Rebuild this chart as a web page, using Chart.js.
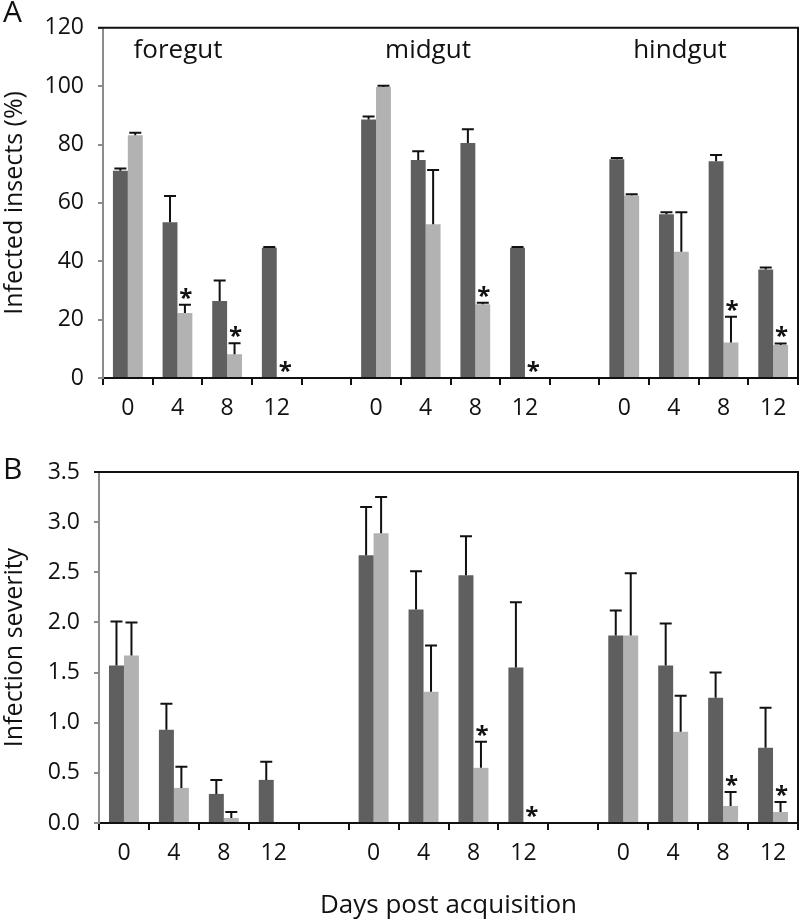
<!DOCTYPE html>
<html>
<head>
<meta charset="utf-8">
<script src="https://cdn.jsdelivr.net/npm/chart.js@4/dist/chart.umd.min.js"></script>
<style>
  body { margin: 0; background: #fff; }
  #wrap { position: relative; width: 800px; height: 921px; }
  canvas { position: absolute; left: 0; }
  #chartA { top: 0; }
  #chartB { top: 420px; }
</style>
</head>
<body>
<div id="wrap">
  <canvas id="chartA" width="800" height="420"></canvas>
  <canvas id="chartB" width="800" height="501"></canvas>
</div>
<script>
// x categories: days post acquisition, one blank slot between gut regions
const categories = ["0", "4", "8", "12", "", "0", "4", "8", "12", "", "0", "4", "8", "12"];
const groupNames = ["foregut", "midgut", "hindgut"];

// Panel A - infected insects (%)
const infectedDark = [71, 53.4, 26.4, 44.6, null, 88.6, 74.7, 80.5, 44.6, null, 75, 56.1, 74.3, 37.2];
const infectedDarkErr = [0.8, 9, 7, 0.3, null, 1, 3, 4.7, 0.3, null, 0.4, 0.7, 2.1, 0.7];
const infectedLight = [83.2, 22.3, 8.1, 0, null, 99.7, 52.7, 25.3, 0, null, 62.5, 43.3, 12.2, 11.3];
const infectedLightErr = [0.8, 2.8, 3.8, 0, null, 0.4, 18.6, 0.5, 0, null, 0.5, 13.5, 8.8, 0.5];
const infectedSig = [0, 1, 1, 1, 0, 0, 0, 1, 1, 0, 0, 0, 1, 1];

// Panel B - infection severity
const severityDark = [1.57, 0.93, 0.29, 0.43, null, 2.67, 2.13, 2.47, 1.55, null, 1.87, 1.57, 1.25, 0.75];
const severityDarkErr = [0.44, 0.26, 0.14, 0.18, null, 0.48, 0.38, 0.39, 0.65, null, 0.25, 0.42, 0.25, 0.40];
const severityLight = [1.67, 0.35, 0.05, 0, null, 2.89, 1.31, 0.55, 0, null, 1.87, 0.91, 0.17, 0.11];
const severityLightErr = [0.33, 0.21, 0.06, 0, null, 0.36, 0.46, 0.26, 0, null, 0.62, 0.36, 0.14, 0.10];
const severitySig = [0, 0, 0, 0, 0, 0, 0, 1, 1, 0, 0, 0, 1, 1];

const DARK = "#5f5f5f";
const LIGHT = "#b2b2b2";
const FONT = "'Open Sans', 'DejaVu Sans', sans-serif";

// Error bars, asterisks, frame and labels
const extrasPlugin = {
  id: "extras",
  afterDatasetsDraw(chart) {
    const opts = chart.options.plugins.extras;
    const ctx = chart.ctx;
    const area = chart.chartArea;
    const yScale = chart.scales.y;

    // top and right frame
    ctx.save();
    ctx.strokeStyle = "#111";
    ctx.lineWidth = 2;
    ctx.beginPath();
    ctx.moveTo(area.left - 5, area.top);
    ctx.lineTo(area.right, area.top);
    ctx.lineTo(area.right, area.bottom);
    ctx.stroke();

    // error bars (upper only)
    opts.errors.forEach((errs, di) => {
      const meta = chart.getDatasetMeta(di);
      const vals = chart.data.datasets[di].data;
      errs.forEach((e, i) => {
        if (e == null || !vals[i]) return;
        const bar = meta.data[i];
        const yTop = yScale.getPixelForValue(vals[i]);
        const yCap = yScale.getPixelForValue(vals[i] + e);
        ctx.beginPath();
        ctx.moveTo(bar.x, yTop);
        ctx.lineTo(bar.x, yCap);
        ctx.moveTo(bar.x - 6, yCap);
        ctx.lineTo(bar.x + 6, yCap);
        ctx.stroke();
      });
    });

    // significance marks over the light bars
    ctx.fillStyle = "#111";
    ctx.font = "bold 24px " + FONT;
    ctx.textAlign = "center";
    ctx.textBaseline = "middle";
    const lightMeta = chart.getDatasetMeta(1);
    const lightVals = chart.data.datasets[1].data;
    opts.sig.forEach((s, i) => {
      if (!s) return;
      const v = (lightVals[i] || 0) + (opts.errors[1][i] || 0);
      const y = yScale.getPixelForValue(v);
      ctx.fillText("*", lightMeta.data[i].x + 1, y - 6);
    });

    // gut region names
    if (opts.groups) {
      ctx.font = "26px " + FONT;
      ctx.textBaseline = "alphabetic";
      opts.groups.forEach(g => {
        ctx.fillText(g.text, g.x, g.y);
      });
    }

    // panel letter
    ctx.font = "30px " + FONT;
    ctx.textAlign = "left";
    ctx.textBaseline = "middle";
    ctx.fillText(opts.letter, 3, opts.letterY);
    ctx.restore();
  }
};

function makeChart(id, cfg) {
  return new Chart(document.getElementById(id), {
    type: "bar",
    data: {
      labels: categories,
      datasets: [
        { data: cfg.dark, backgroundColor: DARK, categoryPercentage: 0.6, barPercentage: 1.0 },
        { data: cfg.light, backgroundColor: LIGHT, categoryPercentage: 0.6, barPercentage: 1.0 }
      ]
    },
    options: {
      responsive: false,
      animation: false,
      layout: { padding: { top: cfg.padTop, right: 2, left: 0, bottom: 0 } },
      plugins: {
        legend: { display: false },
        tooltip: { enabled: false },
        extras: {
          errors: [cfg.darkErr, cfg.lightErr],
          sig: cfg.sig,
          groups: cfg.groups,
          letter: cfg.letter,
          letterY: cfg.letterY
        }
      },
      scales: {
        x: {
          afterFit(scale) { scale.height = cfg.xHeight; },
          grid: {
            offset: true,
            drawOnChartArea: false,
            color: "#111",
            lineWidth: 2,
            tickLength: 7
          },
          border: { color: "#111", width: 2 },
          ticks: { color: "#111", font: { family: FONT, size: 23 }, padding: 10, maxRotation: 0, autoSkip: false },
          title: cfg.xTitle ? {
            display: true,
            text: cfg.xTitle,
            color: "#111",
            font: { family: FONT, size: 26 },
            padding: { top: 0, bottom: 0 }
          } : { display: false }
        },
        y: {
          min: 0,
          max: cfg.yMax,
          afterFit(scale) { scale.width = cfg.yWidth; },
          grid: { drawOnChartArea: false, color: "#8c8c8c", lineWidth: 2, tickLength: 5 },
          border: { color: "#8c8c8c", width: 2 },
          ticks: {
            stepSize: cfg.yStep,
            color: "#111",
            font: { family: FONT, size: 23 },
            padding: 14,
            callback: cfg.yFormat
          },
          title: {
            display: true,
            text: cfg.yTitle,
            color: "#111",
            font: { family: FONT, size: 25 },
            padding: { top: 0, bottom: 0 }
          }
        }
      }
    },
    plugins: [extrasPlugin]
  });
}

makeChart("chartA", {
  dark: infectedDark, darkErr: infectedDarkErr,
  light: infectedLight, lightErr: infectedLightErr,
  sig: infectedSig,
  padTop: 23, xHeight: 42, yWidth: 103,
  yMax: 120, yStep: 20, yFormat: v => v,
  yTitle: "Infected insects (%)",
  letter: "A", letterY: 13,
  groups: [
    { text: groupNames[0], x: 178, y: 58 },
    { text: groupNames[1], x: 428, y: 58 },
    { text: groupNames[2], x: 680, y: 58 }
  ]
});

makeChart("chartB", {
  dark: severityDark, darkErr: severityDarkErr,
  light: severityLight, lightErr: severityLightErr,
  sig: severitySig,
  padTop: 52, xHeight: 98, yWidth: 99,
  yMax: 3.5, yStep: 0.5, yFormat: v => v.toFixed(1),
  yTitle: "Infection severity",
  xTitle: "Days post acquisition",
  letter: "B", letterY: 50,
  groups: null
});
</script>
</body>
</html>
